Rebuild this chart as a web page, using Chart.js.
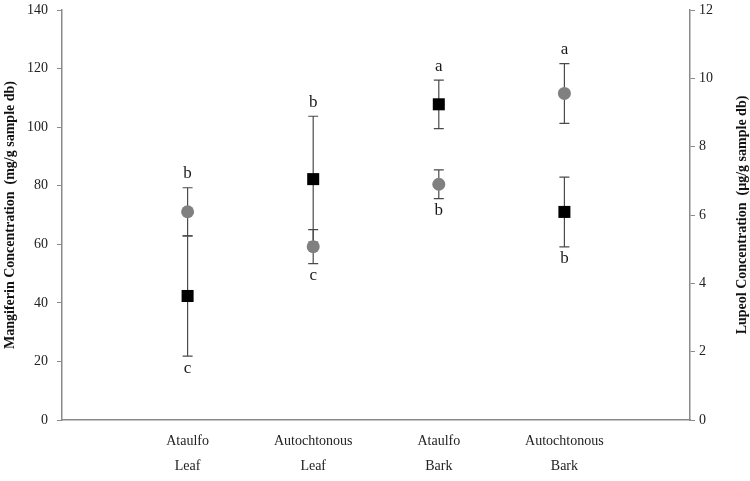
<!DOCTYPE html>
<html>
<head>
<meta charset="utf-8">
<script src="https://cdn.jsdelivr.net/npm/chart.js@4.4.1/dist/chart.umd.min.js"></script>
<style>
  html, body { margin: 0; padding: 0; background: #fff; }
  #wrap { width: 750px; height: 481px; }
</style>
</head>
<body>
<div id="wrap"><canvas id="chart"></canvas></div>
<script>
// categories (two lines each)
const categories = [['Ataulfo', 'Leaf'], ['Autochtonous', 'Leaf'], ['Ataulfo', 'Bark'], ['Autochtonous', 'Bark']]

// mangiferin, mg/g sample db (grey circles, left axis)
const mangiferin = [71.1, 59.2, 80.5, 111.5]
const mangiferinErr = [8.2, 5.8, 4.9, 10.2]
const mangiferinLetters = ['b', 'c', 'b', 'a']
const mangiferinLetterPos = ['above', 'below', 'below', 'above']

// lupeol, ug/g sample db (black squares, right axis)
const lupeol = [3.63, 7.05, 9.24, 6.09]
const lupeolErr = [1.76, 1.84, 0.71, 1.02]
const lupeolLetters = ['c', 'b', 'a', 'b']
const lupeolLetterPos = ['below', 'above', 'above', 'below']

const serif = "'Liberation Serif', 'Times New Roman', serif"
const axisGrey = '#8a8a8a'
const rightTitle = 'Lupeol Concentration  (µg/g sample db)'

const toPoints = vals => vals.map((v, i) => ({ x: i + 1, y: v }))

// error bars, significance letters, right-hand axis title (reads bottom to top)
const errorBars = {
  id: 'errorBars',
  beforeDatasetsDraw(chart) {
    const ctx = chart.ctx
    const x = chart.scales.x
    ctx.save()
    ctx.strokeStyle = '#4a4a4a'
    ctx.lineWidth = 1.2
    chart.data.datasets.forEach(ds => {
      const y = chart.scales[ds.yAxisID]
      ds.data.forEach((p, i) => {
        const px = x.getPixelForValue(p.x)
        const top = y.getPixelForValue(p.y + ds.err[i])
        const bot = y.getPixelForValue(p.y - ds.err[i])
        ctx.beginPath()
        ctx.moveTo(px, top); ctx.lineTo(px, bot)
        ctx.moveTo(px - 5, top); ctx.lineTo(px + 5, top)
        ctx.moveTo(px - 5, bot); ctx.lineTo(px + 5, bot)
        ctx.stroke()
      })
    })
    ctx.restore()
  },
  afterDatasetsDraw(chart) {
    const ctx = chart.ctx
    const x = chart.scales.x
    ctx.save()
    ctx.fillStyle = '#1a1a1a'
    ctx.font = '17px ' + serif
    ctx.textAlign = 'center'
    ctx.textBaseline = 'middle'
    chart.data.datasets.forEach(ds => {
      const y = chart.scales[ds.yAxisID]
      ds.data.forEach((p, i) => {
        const px = x.getPixelForValue(p.x)
        if (ds.letterPos[i] === 'above') {
          ctx.fillText(ds.letters[i], px, y.getPixelForValue(p.y + ds.err[i]) - 14)
        } else {
          ctx.fillText(ds.letters[i], px, y.getPixelForValue(p.y - ds.err[i]) + 12)
        }
      })
    })
    const area = chart.chartArea
    ctx.translate(742, (area.top + area.bottom) / 2)
    ctx.rotate(-Math.PI / 2)
    ctx.fillStyle = '#111'
    ctx.font = 'bold 14px ' + serif
    ctx.fillText(rightTitle, 0, 0)
    ctx.restore()
  }
}

// keep the plot area at 10px from the top whatever the tick padding is
const fixPad = w => s => { s.width = w; s.paddingTop = 10; s.paddingBottom = 8 }

new Chart(document.getElementById('chart'), {
  type: 'scatter',
  data: {
    datasets: [
      {
        label: 'Mangiferin',
        data: toPoints(mangiferin),
        err: mangiferinErr,
        letters: mangiferinLetters,
        letterPos: mangiferinLetterPos,
        yAxisID: 'y',
        pointStyle: 'circle',
        pointRadius: 6.5,
        backgroundColor: '#808080',
        borderColor: '#808080',
        borderWidth: 0
      },
      {
        label: 'Lupeol',
        data: toPoints(lupeol),
        err: lupeolErr,
        letters: lupeolLetters,
        letterPos: lupeolLetterPos,
        yAxisID: 'y1',
        pointStyle: 'rect',
        pointRadius: 8.5,
        backgroundColor: '#000',
        borderColor: '#000',
        borderWidth: 0
      }
    ]
  },
  options: {
    responsive: true,
    maintainAspectRatio: false,
    animation: false,
    layout: { padding: 0 },
    plugins: {
      legend: { display: false },
      tooltip: { enabled: false }
    },
    scales: {
      x: {
        type: 'linear',
        min: 0,
        max: 5,
        grid: { display: false, drawTicks: false },
        border: { display: true, color: axisGrey, width: 1.5 },
        ticks: {
          stepSize: 1,
          padding: 9,
          maxRotation: 0,
          color: '#222',
          font: { family: serif, size: 14, lineHeight: 1.8 },
          callback: v => (v >= 1 && v <= categories.length ? categories[v - 1] : '')
        },
        afterFit: s => { s.height = 61 }
      },
      y: {
        position: 'left',
        min: 0,
        max: 140,
        grid: { drawOnChartArea: false, color: axisGrey, tickLength: 5 },
        border: { color: axisGrey, width: 1.5 },
        ticks: { stepSize: 20, padding: 9, color: '#222', font: { family: serif, size: 14 } },
        title: {
          display: true,
          text: 'Mangiferin Concentration  (mg/g sample db)',
          color: '#111',
          font: { family: serif, size: 14, weight: 'bold' },
          padding: { top: 2, bottom: 0 }
        },
        afterFit: fixPad(62)
      },
      y1: {
        position: 'right',
        min: 0,
        max: 12,
        grid: { drawOnChartArea: false, color: axisGrey, tickLength: 5 },
        border: { color: axisGrey, width: 1.5 },
        ticks: { stepSize: 2, padding: 4, color: '#222', font: { family: serif, size: 14 } },
        afterFit: fixPad(60)
      }
    }
  },
  plugins: [errorBars]
})
</script>
</body>
</html>
